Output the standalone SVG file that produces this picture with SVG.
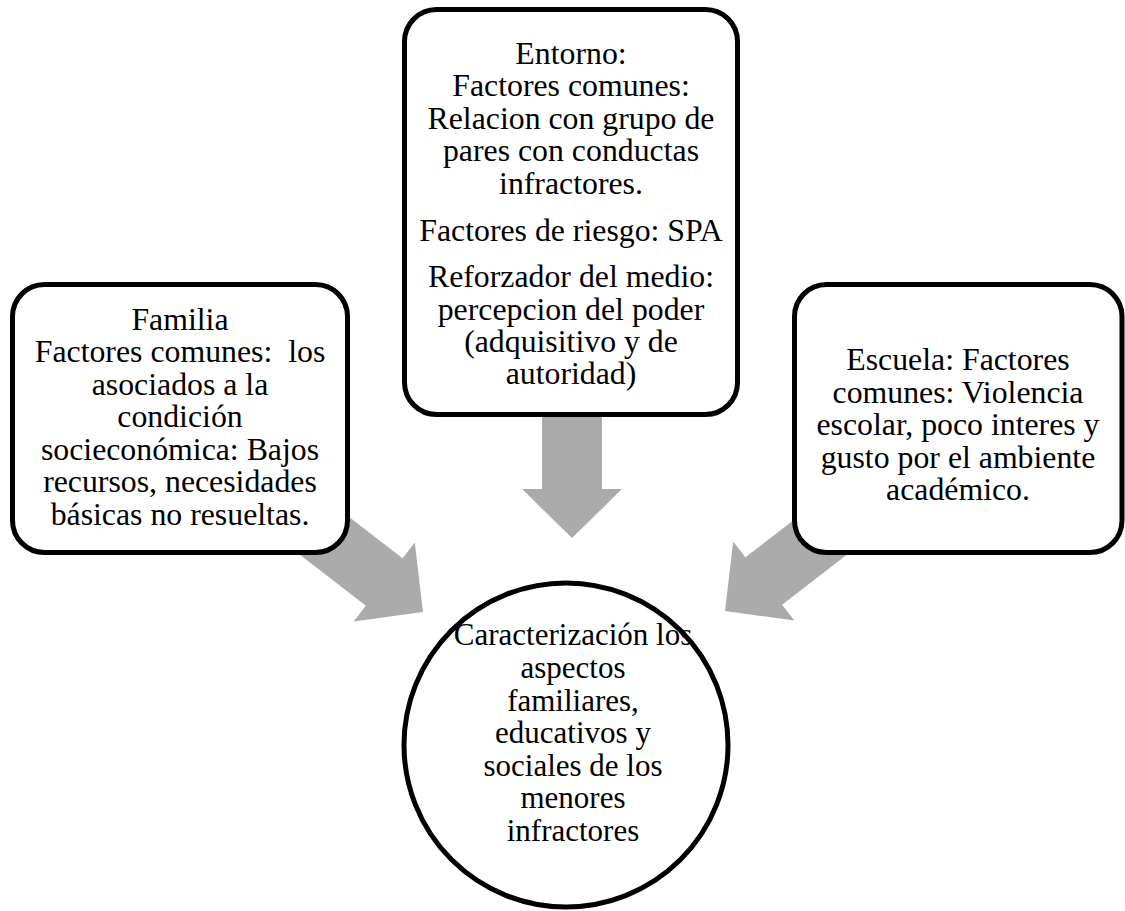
<svg xmlns="http://www.w3.org/2000/svg" width="1125" height="911" viewBox="0 0 1125 911">
<defs>
<style>
.box{fill:#fff;stroke:#000;stroke-width:5}
.arrow{fill:#ababab;stroke:none}
.t{font-family:'Liberation Serif','Times New Roman',serif;font-size:31.8px;fill:#000;text-anchor:middle}
.c{font-size:31px}
</style>
<path id="arr" d="M-150,-30 L-49,-30 L-49,-50 L0,0 L-49,50 L-49,30 L-150,30 Z"/>
</defs>
<rect width="1125" height="911" fill="#fff"/>
<g id="connectors">
<use href="#arr" class="arrow" transform="translate(572,538) rotate(90)"/>
<use href="#arr" class="arrow" transform="translate(423,612) rotate(37.7)"/>
<use href="#arr" class="arrow" transform="translate(725,611) rotate(142.3)"/>
</g>
<g id="familia">
<rect class="box" x="12.5" y="284.5" width="335" height="268" rx="32"/>
<g class="t">
<text x="180" y="329.5">Familia</text>
<text x="180" y="362" xml:space="preserve">Factores comunes:  los</text>
<text x="180" y="394.5">asociados a la</text>
<text x="180" y="427">condición</text>
<text x="180" y="459.5">socieconómica: Bajos</text>
<text x="180" y="492">recursos, necesidades</text>
<text x="180" y="524.5">básicas no resueltas.</text>
</g>
</g>
<g id="entorno">
<rect class="box" x="404.5" y="9.5" width="333" height="405" rx="32"/>
<g class="t">
<text x="571" y="63.5">Entorno:</text>
<text x="571" y="96">Factores comunes:</text>
<text x="571" y="128.5">Relacion con grupo de</text>
<text x="571" y="161">pares con conductas</text>
<text x="571" y="193.5">infractores.</text>
<text x="571" y="241">Factores de riesgo: SPA</text>
<text x="571" y="287">Reforzador del medio:</text>
<text x="571" y="319.5">percepcion del poder</text>
<text x="571" y="352">(adquisitivo y de</text>
<text x="571" y="384">autoridad)</text>
</g>
</g>
<g id="escuela">
<rect class="box" x="794.5" y="284.5" width="327.5" height="268" rx="32"/>
<g class="t">
<text x="958" y="370">Escuela: Factores</text>
<text x="958" y="402.5">comunes: Violencia</text>
<text x="958" y="435">escolar, poco interes y</text>
<text x="958" y="467.5">gusto por el ambiente</text>
<text x="958" y="500">académico.</text>
</g>
</g>
<g id="caracterizacion">
<circle class="box" cx="566" cy="745" r="162"/>
<g class="t c">
<text x="573" y="645">Caracterización los</text>
<text x="573" y="678">aspectos</text>
<text x="573" y="710.5">familiares,</text>
<text x="573" y="743">educativos y</text>
<text x="573" y="775.5">sociales de los</text>
<text x="573" y="808">menores</text>
<text x="573" y="841">infractores</text>
</g>
</g>
</svg>
